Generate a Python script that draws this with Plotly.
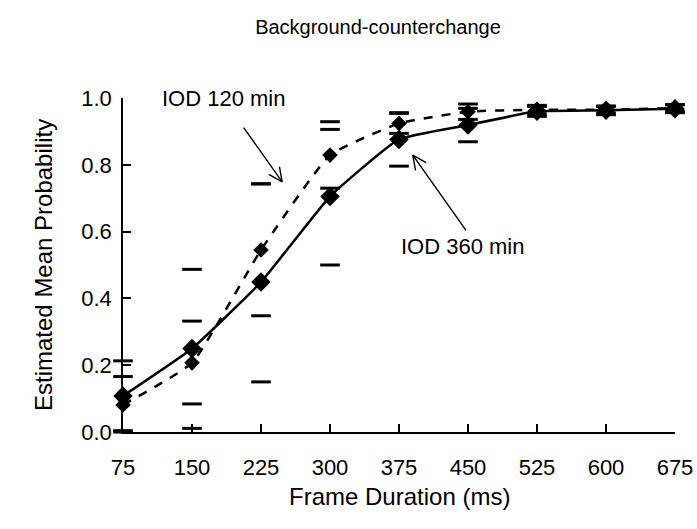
import plotly.graph_objects as go

frame_ms = [75, 150, 225, 300, 375, 450, 525, 600, 675]

iod360 = [0.108, 0.250, 0.449, 0.705, 0.876, 0.919, 0.960, 0.963, 0.968]
iod360_hi = [0.213, 0.487, 0.743, 0.906, 0.956, 0.969, 0.975, 0.976, 0.980]
iod360_lo = [0.004, 0.011, 0.150, 0.500, 0.796, 0.869, 0.945, 0.950, 0.956]

iod120 = [0.081, 0.207, 0.545, 0.829, 0.924, 0.959, 0.965, 0.965, 0.970]
iod120_hi = [0.166, 0.332, 0.743, 0.929, 0.954, 0.982, 0.978, 0.975, 0.980]
iod120_lo = [0.000, 0.084, 0.348, 0.730, 0.894, 0.936, 0.952, 0.955, 0.960]

y_ticks = [0.0, 0.2, 0.4, 0.6, 0.8, 1.0]

FONT = "Liberation Sans, Arial, sans-serif"
fig = go.Figure()

# error caps (caps only, no stems)
for hi, lo in [(iod360_hi, iod360_lo), (iod120_hi, iod120_lo)]:
    for arr in (hi, lo):
        fig.add_trace(go.Scatter(
            x=frame_ms, y=arr, mode="markers", cliponaxis=False, showlegend=False,
            marker=dict(symbol="line-ew", size=14, color="black",
                        line=dict(width=3, color="black")),
            hoverinfo="skip"))

fig.add_trace(go.Scatter(
    x=frame_ms, y=iod120, mode="lines+markers", name="IOD 120 min",
    cliponaxis=False, showlegend=False,
    line=dict(color="black", width=2.5, dash="dash", shape="spline", smoothing=0.4),
    marker=dict(symbol="diamond", size=12, color="black")))

fig.add_trace(go.Scatter(
    x=frame_ms, y=iod360, mode="lines+markers", name="IOD 360 min",
    cliponaxis=False, showlegend=False,
    line=dict(color="black", width=2.5, shape="spline", smoothing=0.4),
    marker=dict(symbol="diamond", size=15, color="black")))


def add_arrow(tip_x, tip_y, tail_x, tail_y, legs):
    fig.add_annotation(x=tip_x, y=tip_y, ax=tail_x, ay=tail_y, xref="x", yref="y",
                       axref="x", ayref="y", text="", showarrow=True,
                       arrowhead=0, arrowwidth=1.4, arrowcolor="black")
    for lx, ly in legs:
        fig.add_annotation(x=tip_x, y=tip_y, ax=lx, ay=ly, xref="x", yref="y",
                           text="", showarrow=True, arrowhead=0,
                           arrowwidth=1.4, arrowcolor="black")


# labels with arrows
fig.add_annotation(x=185, y=1.0, xref="x", yref="y", text="IOD 120 min",
                   showarrow=False, font=dict(size=22, color="black", family=FONT))
add_arrow(248, 0.749, 205, 0.916, [(-3.0, -16.7), (-14.8, -8.4)])
fig.add_annotation(x=445, y=0.554, xref="x", yref="y", text="IOD 360 min",
                   showarrow=False, font=dict(size=22, color="black", family=FONT))
add_arrow(390, 0.829, 449, 0.599, [(3.0, 16.7), (14.8, 8.4)])

# axis titles
fig.add_annotation(x=0.5, y=0, xref="paper", yref="paper", yshift=-64,
                   text="Frame Duration (ms)", showarrow=False, yanchor="middle",
                   font=dict(size=24, color="black", family=FONT))
fig.add_annotation(x=0, y=0.5, xref="paper", yref="paper", xshift=-80,
                   text="Estimated Mean Probability", showarrow=False, textangle=-90,
                   xanchor="center", font=dict(size=24, color="black", family=FONT))

fig.update_layout(
    width=697, height=529,
    margin=dict(l=123, r=22, t=98, b=97),
    paper_bgcolor="white", plot_bgcolor="white",
    font=dict(family=FONT, size=22, color="black"),
    title=dict(text="Background-counterchange", x=378 / 697, xanchor="center",
               y=1 - 27 / 529, yanchor="middle", font=dict(size=20)),
    xaxis=dict(range=[75, 675], tickvals=frame_ms, ticktext=[str(v) for v in frame_ms],
               ticks="inside", ticklen=8, tickwidth=1.5, tickcolor="black",
               showline=True, linecolor="black", linewidth=1.5, showgrid=False,
               zeroline=False, automargin=False, ticklabelstandoff=15,
               tickfont=dict(size=22)),
    yaxis=dict(range=[0, 1.0], tickvals=y_ticks, tickformat=".1f",
               ticks="inside", ticklen=8, tickwidth=1.5, tickcolor="black",
               showline=True, linecolor="black", linewidth=1.5, showgrid=False,
               zeroline=False, automargin=False, ticklabelstandoff=5,
               tickfont=dict(size=22)),
)

fig.write_html("out.html", config={"displayModeBar": False},
               post_script="document.body.style.margin='0';")
